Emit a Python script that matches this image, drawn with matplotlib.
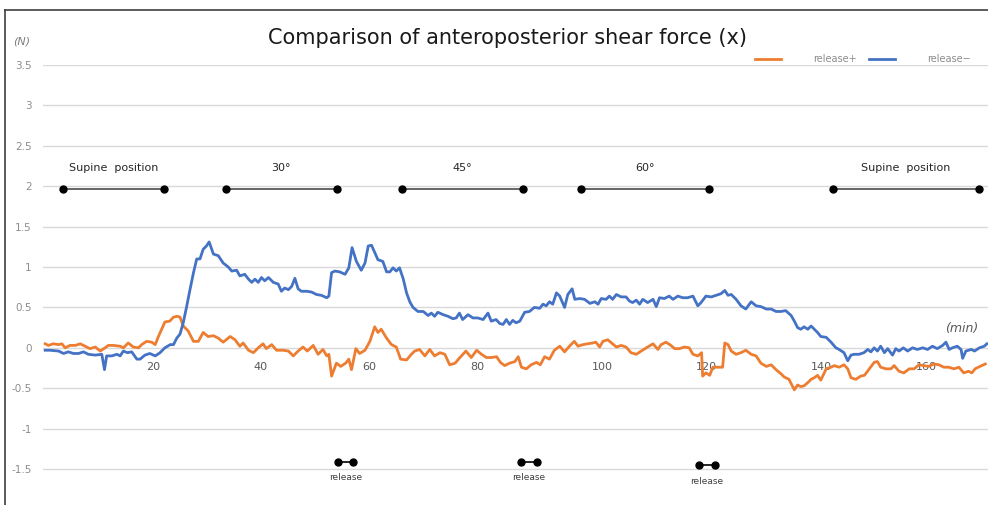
import matplotlib
matplotlib.use("Agg")
import matplotlib.pyplot as plt
from matplotlib.lines import Line2D
import numpy as np

# release+ (orange) : time (min), force (N)
t_plus = [0.0, 0.6, 1.5, 2.5, 3.1, 3.7, 4.6, 5.6, 6.5, 7.4, 8.3, 9.3, 10.2, 11.1, 11.7, 12.65,
          13.9, 14.5, 15.4, 16.35, 17.3, 17.9, 18.8, 19.75, 20.4, 21.0, 21.6, 22.2, 23.1, 23.8,
          24.5, 25.0, 25.6, 26.5, 27.5, 28.4, 29.3, 30.2, 31.2, 32.1, 33.0, 34.3, 35.2, 36.1,
          36.7, 37.7, 38.6, 39.5, 40.4, 41.0, 42.0, 42.9, 44.1, 45.1, 46.0, 46.9, 47.8, 48.6,
          49.7, 50.6, 51.5, 52.2, 52.6, 53.1, 54.0, 54.8, 55.7, 56.3, 56.8, 57.6, 58.3, 59.3,
          60.2, 61.1, 61.7, 62.3, 63.3, 64.2, 65.1, 65.9, 67.0, 67.9, 68.5, 69.4, 70.4, 71.3,
          72.2, 73.2, 74.1, 75.0, 76.0, 76.9, 78.0, 79.0, 80.0, 80.9, 81.8, 82.7, 83.7, 84.4,
          85.2, 86.1, 87.1, 87.7, 88.3, 89.2, 90.1, 91.1, 91.8, 92.6, 93.5, 94.4, 95.4, 96.3,
          97.2, 98.1, 98.8, 99.7, 100.6, 101.5, 102.1, 102.8, 103.4, 104.3, 105.2, 105.9, 106.8,
          107.7, 108.6, 109.6, 110.5, 111.7, 112.7, 113.6, 114.2, 115.1, 116.0, 116.7, 117.6,
          118.5, 119.4, 120.1, 121.0, 121.7, 121.9, 122.5, 123.2, 123.8, 124.7, 125.6, 126.0,
          126.6, 127.2, 128.1, 129.0, 129.9, 130.9, 131.8, 132.7, 133.7, 134.6, 135.5, 136.4,
          137.0, 137.9, 138.9, 139.5, 140.1, 140.7, 141.4, 142.0, 142.6, 143.2, 143.8, 144.8,
          145.7, 146.3, 147.2, 148.1, 148.8, 149.4, 150.3, 151.2, 151.9, 152.8, 153.7, 154.3,
          154.9, 155.9, 156.8, 157.4, 158.3, 159.2, 160.2, 161.1, 162.0, 162.9, 163.8, 164.8,
          165.7, 166.6, 167.5, 168.5, 169.4, 170.3, 171.2, 171.8, 172.4, 173.3, 174.3]
f_plus = [0.05, 0.03, 0.05, 0.04, 0.05, 0.00, 0.03, 0.03, 0.05, 0.02, -0.01, 0.01, -0.04, 0.00,
          0.03, 0.03, 0.02, 0.00, 0.06, 0.01, 0.00, 0.04, 0.08, 0.07, 0.04, 0.14, 0.23, 0.32,
          0.33, 0.38, 0.39, 0.38, 0.27, 0.21, 0.08, 0.08, 0.19, 0.14, 0.15, 0.12, 0.07, 0.14,
          0.10, 0.02, 0.06, -0.03, -0.06, 0.00, 0.05, -0.01, 0.04, -0.03, -0.03, -0.04, -0.10,
          -0.04, 0.01, -0.04, 0.03, -0.08, -0.02, -0.10, -0.08, -0.35, -0.19, -0.23, -0.19,
          -0.14, -0.27, -0.01, -0.07, -0.03, 0.08, 0.26, 0.19, 0.23, 0.12, 0.04, 0.01, -0.14,
          -0.15, -0.08, -0.04, -0.02, -0.10, -0.02, -0.10, -0.06, -0.08, -0.21, -0.19, -0.12,
          -0.04, -0.12, -0.03, -0.08, -0.12, -0.12, -0.11, -0.18, -0.22, -0.19, -0.17, -0.11,
          -0.24, -0.26, -0.21, -0.18, -0.21, -0.11, -0.14, -0.03, 0.02, -0.05, 0.02, 0.08, 0.02,
          0.04, 0.05, 0.06, 0.07, 0.01, 0.08, 0.10, 0.05, 0.01, 0.03, 0.01, -0.06, -0.08, -0.04,
          0.01, 0.05, -0.02, 0.04, 0.07, 0.03, -0.01, -0.01, 0.01, 0.00, -0.08, -0.10, -0.06,
          -0.35, -0.31, -0.34, -0.24, -0.24, -0.24, 0.06, 0.04, -0.04, -0.08, -0.06, -0.03,
          -0.08, -0.10, -0.19, -0.23, -0.21, -0.27, -0.32, -0.36, -0.39, -0.52, -0.46, -0.48,
          -0.47, -0.43, -0.39, -0.37, -0.34, -0.40, -0.26, -0.24, -0.22, -0.24, -0.21, -0.26,
          -0.37, -0.39, -0.35, -0.34, -0.26, -0.18, -0.17, -0.24, -0.26, -0.26, -0.22, -0.29,
          -0.31, -0.26, -0.26, -0.21, -0.22, -0.23, -0.20, -0.21, -0.24, -0.24, -0.26, -0.24,
          -0.31, -0.29, -0.31, -0.26, -0.23, -0.20]

# release- (blue)
t_minus = [0.0, 0.9, 2.5, 3.4, 4.3, 5.25, 6.2, 7.1, 8.0, 9.3, 10.5, 11.0, 11.4, 12.35, 13.3, 13.9,
           14.5, 15.25, 16.05, 17.0, 17.6, 18.5, 19.4, 20.4, 21.3, 22.2, 23.2, 23.8, 24.4, 25.0,
           25.6, 26.2, 26.85, 27.5, 28.1, 28.7, 29.3, 29.9, 30.4, 31.2, 32.1, 33.0, 33.95, 34.6,
           35.5, 36.1, 37.0, 37.7, 38.3, 38.9, 39.5, 40.1, 40.7, 41.4, 42.3, 43.2, 43.8, 44.4,
           45.1, 45.7, 46.3, 46.9, 47.5, 48.5, 49.4, 50.3, 51.2, 52.2, 52.6, 53.1, 53.7, 54.6,
           55.6, 56.3, 56.9, 57.7, 58.6, 59.3, 59.9, 60.5, 61.1, 61.7, 62.6, 63.3, 63.9, 64.5,
           65.1, 65.7, 66.4, 67.0, 67.6, 68.2, 69.1, 70.1, 71.0, 71.6, 72.2, 72.8, 73.8, 74.7,
           75.6, 76.2, 76.8, 77.4, 78.4, 79.3, 80.2, 81.2, 82.1, 82.7, 83.6, 84.3, 84.9, 85.5,
           86.1, 86.7, 87.3, 88.0, 88.9, 89.8, 90.7, 91.7, 92.3, 92.9, 93.5, 94.1, 94.8, 95.4,
           96.3, 96.9, 97.7, 98.2, 99.1, 100.0, 101.0, 101.9, 102.5, 103.1, 104.0, 104.6, 105.2,
           105.9, 106.8, 107.7, 108.3, 108.9, 109.6, 110.2, 110.8, 111.7, 112.7, 113.3, 113.9,
           114.8, 115.7, 116.4, 117.3, 118.2, 119.1, 120.1, 121.0, 121.6, 122.5, 123.5, 124.4,
           125.3, 126.0, 126.6, 127.2, 128.1, 129.0, 129.9, 130.9, 131.8, 132.7, 133.7, 134.6,
           135.5, 136.4, 137.3, 138.3, 138.9, 139.5, 140.1, 140.7, 141.4, 142.0, 142.6, 143.2,
           143.8, 144.8, 145.7, 146.6, 147.2, 148.1, 148.8, 149.4, 150.0, 150.9, 151.8, 152.5,
           153.1, 153.7, 154.3, 154.9, 155.6, 156.2, 157.1, 157.7, 158.3, 159.1, 159.9, 160.8,
           161.7, 162.7, 163.6, 164.5, 165.4, 166.4, 167.0, 167.6, 168.2, 169.1, 169.8, 170.1,
           170.7, 171.7, 172.3, 173.2, 174.1, 174.6]
f_minus = [-0.03, -0.03, -0.04, -0.07, -0.05, -0.07, -0.07, -0.05, -0.08, -0.09, -0.08, -0.27,
           -0.10, -0.10, -0.08, -0.10, -0.04, -0.06, -0.05, -0.14, -0.14, -0.09, -0.07, -0.10,
           -0.06, 0.00, 0.04, 0.04, 0.12, 0.17, 0.31, 0.50, 0.72, 0.93, 1.10, 1.10, 1.22, 1.26,
           1.31, 1.16, 1.14, 1.05, 1.00, 0.95, 0.96, 0.89, 0.91, 0.85, 0.81, 0.85, 0.81, 0.87,
           0.83, 0.87, 0.81, 0.79, 0.70, 0.74, 0.72, 0.76, 0.86, 0.73, 0.70, 0.70, 0.69, 0.66,
           0.65, 0.62, 0.64, 0.93, 0.95, 0.94, 0.91, 0.99, 1.24, 1.07, 0.96, 1.05, 1.26, 1.27,
           1.18, 1.09, 1.07, 0.94, 0.94, 0.99, 0.95, 0.99, 0.85, 0.68, 0.57, 0.50, 0.45, 0.45,
           0.40, 0.43, 0.39, 0.44, 0.41, 0.39, 0.36, 0.37, 0.43, 0.35, 0.41, 0.37, 0.37, 0.35,
           0.43, 0.33, 0.35, 0.30, 0.29, 0.35, 0.29, 0.34, 0.31, 0.33, 0.44, 0.45, 0.50, 0.49,
           0.54, 0.52, 0.57, 0.54, 0.68, 0.64, 0.50, 0.66, 0.73, 0.60, 0.61, 0.60, 0.55, 0.57,
           0.54, 0.61, 0.60, 0.64, 0.60, 0.66, 0.63, 0.63, 0.58, 0.56, 0.59, 0.54, 0.60, 0.56,
           0.60, 0.51, 0.62, 0.61, 0.64, 0.60, 0.64, 0.62, 0.62, 0.64, 0.52, 0.56, 0.64, 0.63,
           0.65, 0.67, 0.71, 0.65, 0.66, 0.60, 0.52, 0.48, 0.57, 0.52, 0.51, 0.48, 0.48, 0.45,
           0.45, 0.46, 0.40, 0.33, 0.25, 0.23, 0.26, 0.23, 0.27, 0.23, 0.19, 0.14, 0.13, 0.07,
           0.00, -0.02, -0.06, -0.16, -0.09, -0.08, -0.08, -0.06, -0.02, -0.05, 0.00, -0.04,
           0.02, -0.06, -0.01, -0.09, -0.01, -0.04, 0.00, -0.04, 0.00, -0.02, 0.00, -0.02, 0.02,
           -0.01, 0.03, 0.07, -0.02, 0.00, 0.02, -0.02, -0.13, -0.04, -0.02, -0.04, 0.00, 0.02,
           0.05]

# x-axis labels as placed on the original chart
xtick_pos = [20, 40, 60, 80.2, 103.3, 122.6, 144, 163.3]
xtick_lab = ["20", "40", "60", "80", "100", "120", "140", "160"]

# posture phases (start, end, label)
phase_start = [3.3, 33.5, 66.1, 99.4, 146.1]
phase_end = [22.0, 54.1, 88.5, 123.0, 173.1]
phase_label = ["Supine  position", "30°", "45°", "60°", "Supine  position"]

# release periods
release_start = [54.3, 88.3, 121.3]
release_end = [57.0, 91.1, 124.1]
release_y = [-1.41, -1.41, -1.45]

orange = "#ED7D31"
blue = "#4472C4"

fig = plt.figure(figsize=(9.88, 5.05), dpi=100)
ax = fig.add_axes([43 / 988, 0, 945 / 988, 440 / 505])

ax.plot(t_plus, f_plus, color=orange, lw=2.0, label="release+")
ax.plot(t_minus, f_minus, color=blue, lw=2.0, label="release\u2212")

ax.set_xlim(-0.4, 174.8)
ax.set_ylim(-1.945, 3.5)

yt = np.arange(-1.5, 3.51, 0.5)
ax.set_yticks(yt)
ax.set_yticklabels([("%g" % v) for v in yt])
ax.tick_params(axis="y", length=0, pad=8, labelsize=7.5, labelcolor="#8c8c8c")
ax.grid(axis="y", color="#d9d9d9", lw=1)
ax.set_axisbelow(True)

ax.set_xticks(xtick_pos)
ax.set_xticklabels(xtick_lab)
ax.spines["bottom"].set_position(("data", 0))
for s in ax.spines.values():
    s.set_visible(False)
ax.tick_params(axis="x", length=0, pad=10, labelsize=8, labelcolor="#595959")

# posture phases
for s, e, lab in zip(phase_start, phase_end, phase_label):
    ax.plot([s, e], [1.97, 1.97], color="#595959", lw=1.3, marker="o",
            markersize=5, markerfacecolor="black", markeredgecolor="black")
    ax.text((s + e) / 2, 2.23, lab, ha="center", va="center", fontsize=8, color="#262626")

# release markers
for s, e, y in zip(release_start, release_end, release_y):
    ax.plot([s, e], [y, y], color="black", lw=1.2, marker="o", markersize=5)
    ax.text((s + e) / 2, y - 0.2, "release", ha="center", va="center",
            fontsize=6.5, color="#404040")

ax.text(170, 0.24, "(min)", ha="center", va="center", fontsize=9,
        style="italic", color="#595959")

fig.text(22 / 988, 1 - 42 / 505, "(N)", ha="center", va="center", fontsize=8,
         style="italic", color="#7f7f7f")
fig.text(508 / 988, 1 - 38 / 505, "Comparison of anteroposterior shear force (x)",
         ha="center", va="center", fontsize=15, color="#1a1a1a")

leg = ax.legend(loc="center left", bbox_to_anchor=(755 / 988, 1 - 59 / 505),
                bbox_transform=fig.transFigure, ncol=2, frameon=False, fontsize=7,
                handlelength=2.7, handletextpad=3.3, columnspacing=1.2,
                borderpad=0, borderaxespad=0)
for txt in leg.get_texts():
    txt.set_color("#8c8c8c")

# outer chart frame
fig.add_artist(Line2D([5 / 988, 1], [1 - 10 / 505, 1 - 10 / 505], color="#404040", lw=1.2))
fig.add_artist(Line2D([5 / 988, 5 / 988], [0, 1 - 10 / 505], color="#404040", lw=1.2))

fig.savefig("out.png", dpi=100)
